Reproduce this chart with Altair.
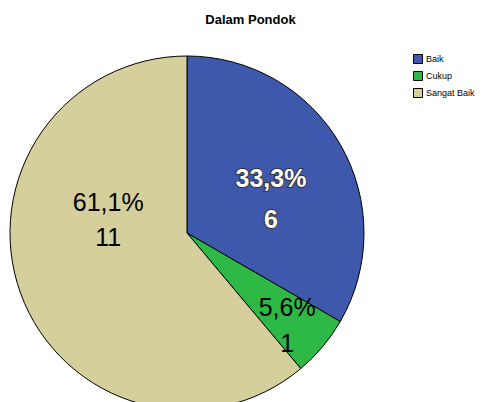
import altair as alt
import pandas as pd

categories = ["Baik", "Cukup", "Sangat Baik"]
counts = [6, 1, 11]
percents = ["33,3%", "5,6%", "61,1%"]
colors = ["#3E58AC", "#2EB846", "#D4CF9B"]

df = pd.DataFrame({
    "cat": categories,
    "count": counts,
    "order": list(range(len(categories))),
    "label": [f"{p}\n{c}" for p, c in zip(percents, counts)],
})

CX, CY, R = 179, 195, 177
theta_scale = alt.Scale(domain=[0, sum(counts)])

base = alt.Chart(df).encode(x=alt.value(CX), y=alt.value(CY))

pie = base.mark_arc(radius=R, stroke="black", strokeWidth=1).encode(
    theta=alt.Theta("count:Q", stack=True, scale=theta_scale),
    color=alt.Color(
        "cat:N",
        scale=alt.Scale(domain=categories, range=colors),
        legend=alt.Legend(
            title=None, orient="none", legendX=405, legendY=16,
            symbolType="square", symbolSize=81, symbolStrokeColor="black",
            symbolStrokeWidth=1, symbolOpacity=1, labelFont="Liberation Sans",
            labelFontSize=9, labelColor="black", rowPadding=3, labelOffset=3,
            padding=0, labelLimit=200,
        ),
    ),
    order=alt.Order("order:O"),
)

lab = base.transform_window(
    cum="sum(count)", sort=[alt.SortField("order")]
).transform_calculate(mid="datum.cum - datum.count / 2").encode(
    theta=alt.Theta("mid:Q", scale=theta_scale), text="label:N"
)

def txt(cat, radius, dx, dy, lh, **kw):
    return lab.transform_filter(alt.datum.cat == cat).mark_text(
        radius=radius, dx=dx, dy=dy, lineBreak="\n", lineHeight=lh,
        font="Liberation Sans", fontSize=25, align="center", baseline="middle",
        **kw,
    )

t_baik_o = txt("Baik", 90, 6, -9, 41, fontWeight="bold", color="white",
               stroke="#333333", strokeWidth=2)
t_baik = txt("Baik", 90, 6, -9, 41, fontWeight="bold", color="white")
t_cukup = txt("Cukup", 136, -4, -12, 36, color="black")
t_sb = txt("Sangat Baik", 70, -13, -54, 35, color="black")

chart = alt.layer(pie, t_baik_o, t_baik, t_cukup, t_sb).properties(
    width=471, height=364,
    autosize="none",
    padding={"left": 0, "right": 0, "top": 30, "bottom": 0},
    title=alt.Title("Dalam Pondok", font="Liberation Sans", fontSize=13,
                    fontWeight="bold", color="black", anchor="middle",
                    dx=7, offset=11),
).configure_view(stroke=None)

chart.save("out.html", embed_options={"renderer": "svg", "actions": False})
